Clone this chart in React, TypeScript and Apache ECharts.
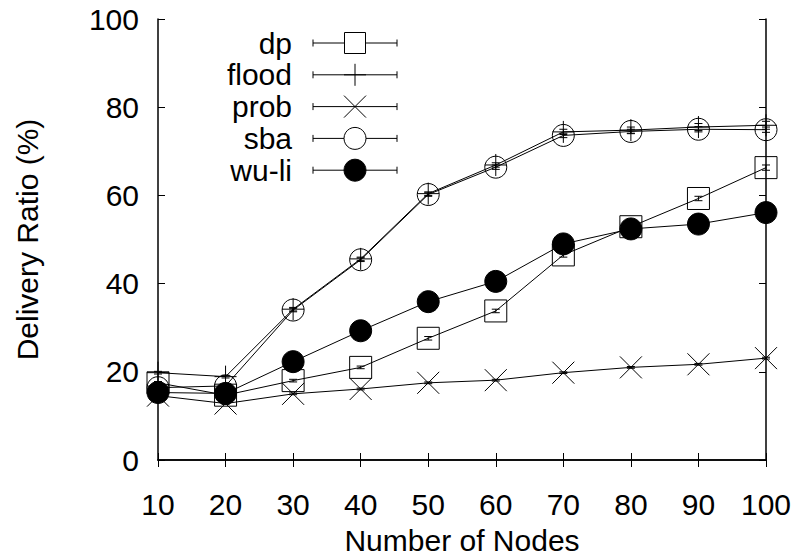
import React, { useEffect, useRef } from "react";
import * as echarts from "echarts";

const nodes = [10, 20, 30, 40, 50, 60, 70, 80, 90, 100];
const yTicks = [0, 20, 40, 60, 80, 100];

const dp = [17.5, 14.7, 18.0, 21.0, 27.6, 33.8, 46.5, 52.9, 59.3, 66.3];
const flood = [19.8, 18.9, 34.2, 45.6, 60.4, 66.9, 74.4, 74.8, 75.5, 75.9];
const prob = [14.6, 12.8, 15.0, 16.1, 17.5, 18.1, 19.8, 21.0, 21.7, 23.1];
const sba = [16.4, 16.8, 34.0, 45.4, 60.2, 66.4, 73.6, 74.5, 75.0, 74.9];
const wuli = [15.3, 15.1, 22.3, 29.3, 35.9, 40.5, 49.0, 52.4, 53.5, 56.1];

const dpErr = [0.3, 0.3, 0.3, 0.3, 0.4, 0.4, 0.5, 0.5, 0.5, 0.6];
const floodErr = [0.3, 0.3, 0.4, 0.4, 0.4, 0.5, 0.6, 0.7, 0.8, 0.9];
const probErr = [0.2, 0.2, 0.2, 0.2, 0.2, 0.2, 0.2, 0.2, 0.2, 0.2];
const sbaErr = [0.3, 0.3, 0.4, 0.4, 0.4, 0.5, 0.5, 0.5, 0.6, 0.6];
const wuliErr = [0.3, 0.3, 0.3, 0.3, 0.4, 0.4, 0.4, 0.4, 0.5, 0.5];

const seriesNames = ["dp", "flood", "prob", "sba", "wu-li"];
const seriesValues = [dp, flood, prob, sba, wuli];
const seriesErrors = [dpErr, floodErr, probErr, sbaErr, wuliErr];
const seriesMarkers = ["square", "plus", "cross", "circle", "disc"];

const FONT = "Liberation Sans, Arial, Helvetica, sans-serif";
const FS = 30;
const BLACK = "#000";

const symbolFor = (m: string) => {
  switch (m) {
    case "square":
      return { symbol: "rect", color: "rgba(0,0,0,0)" };
    case "plus":
      return { symbol: "path://M5,0L5,10M0,5L10,5", color: "rgba(0,0,0,0)" };
    case "cross":
      return { symbol: "path://M0,0L10,10M10,0L0,10", color: "rgba(0,0,0,0)" };
    case "circle":
      return { symbol: "circle", color: "rgba(0,0,0,0)" };
    default:
      return { symbol: "circle", color: BLACK };
  }
};

const legendMarker = (m: string, cx: number, cy: number): any[] => {
  const st = { stroke: BLACK, lineWidth: 1, fill: "none" };
  const h = 11;
  switch (m) {
    case "square":
      return [{ type: "rect", shape: { x: cx - 10.5, y: cy - 10.5, width: 21, height: 21 }, style: { ...st, fill: "#fff" } }];
    case "plus":
      return [
        { type: "line", shape: { x1: cx, y1: cy - h, x2: cx, y2: cy + h }, style: st },
        { type: "line", shape: { x1: cx - h, y1: cy, x2: cx + h, y2: cy }, style: st },
      ];
    case "cross":
      return [
        { type: "line", shape: { x1: cx - h, y1: cy - h, x2: cx + h, y2: cy + h }, style: st },
        { type: "line", shape: { x1: cx + h, y1: cy - h, x2: cx - h, y2: cy + h }, style: st },
      ];
    case "circle":
      return [{ type: "circle", shape: { cx, cy, r: 11 }, style: { ...st, fill: "#fff" } }];
    default:
      return [{ type: "circle", shape: { cx, cy, r: 11 }, style: { fill: BLACK, stroke: BLACK, lineWidth: 1 } }];
  }
};

export default function App() {
  const ref = useRef<HTMLDivElement>(null);

  useEffect(() => {
    if (!ref.current) return;
    const chart = echarts.init(ref.current, null, { renderer: "svg" });

    const series: any[] = [];
    seriesNames.forEach((name, i) => {
      const sym = symbolFor(seriesMarkers[i]);
      series.push({
        name,
        type: "line",
        data: nodes.map((x, j) => [x, seriesValues[i][j]]),
        symbol: sym.symbol,
        symbolSize: 22,
        showSymbol: true,
        clip: false,
        lineStyle: { color: BLACK, width: 1 },
        itemStyle: { color: sym.color, borderColor: BLACK, borderWidth: 1 },
        emphasis: { disabled: true },
        z: 2 + i,
      });
      series.push({
        name: name + "-err",
        type: "custom",
        data: nodes.map((x, j) => [x, seriesValues[i][j], seriesErrors[i][j]]),
        clip: false,
        z: 2 + i,
        renderItem: (params: any, api: any) => {
          const x = api.value(0);
          const y = api.value(1);
          const e = api.value(2);
          const top = api.coord([x, y + e]);
          const bot = api.coord([x, y - e]);
          const w = 4;
          const st = { stroke: BLACK, lineWidth: 1 };
          return {
            type: "group",
            children: [
              { type: "line", shape: { x1: top[0], y1: top[1], x2: bot[0], y2: bot[1] }, style: st },
              { type: "line", shape: { x1: top[0] - w, y1: top[1], x2: top[0] + w, y2: top[1] }, style: st },
              { type: "line", shape: { x1: bot[0] - w, y1: bot[1], x2: bot[0] + w, y2: bot[1] }, style: st },
            ],
          };
        },
      });
    });

    // legend drawn as graphic (gnuplot style keys with error-bar caps)
    const legendEls: any[] = [];
    const rowY0 = 43;
    const rowStep = 31.8;
    seriesNames.forEach((name, i) => {
      const cy = rowY0 + i * rowStep;
      const st = { stroke: BLACK, lineWidth: 1 };
      legendEls.push({
        type: "text",
        x: 292,
        y: cy,
        style: { text: name, font: `${FS}px ${FONT}`, fill: BLACK, textAlign: "right", textVerticalAlign: "middle" },
      });
      legendEls.push({ type: "line", shape: { x1: 313, y1: cy, x2: 397, y2: cy }, style: st });
      legendEls.push({ type: "line", shape: { x1: 313, y1: cy - 3.5, x2: 313, y2: cy + 3.5 }, style: st });
      legendEls.push({ type: "line", shape: { x1: 397, y1: cy - 3.5, x2: 397, y2: cy + 3.5 }, style: st });
      legendMarker(seriesMarkers[i], 355, cy).forEach((el) => legendEls.push(el));
    });

    const axisCommon = {
      axisLine: { show: true, lineStyle: { color: BLACK, width: 1.5 } },
      axisTick: { show: true, inside: true, length: 7, lineStyle: { color: BLACK, width: 1 } },
      splitLine: { show: false },
    };

    chart.setOption({
      animation: false,
      backgroundColor: "#fff",
      grid: { left: 158, right: 34, top: 19, bottom: 97, containLabel: false },
      xAxis: [
        {
          type: "value",
          min: 10,
          max: 100,
          interval: 10,
          position: "bottom",
          name: "Number of Nodes",
          nameLocation: "middle",
          nameGap: 65,
          nameTextStyle: { fontFamily: FONT, fontSize: FS, color: BLACK },
          axisLabel: { fontFamily: FONT, fontSize: FS, color: BLACK, margin: 29 },
          ...axisCommon,
        },
        {
          type: "value",
          min: 10,
          max: 100,
          interval: 10,
          position: "top",
          axisLabel: { show: false },
          ...axisCommon,
        },
      ],
      yAxis: [
        {
          type: "value",
          min: yTicks[0],
          max: yTicks[yTicks.length - 1],
          interval: 20,
          position: "left",
          name: "Delivery Ratio (%)",
          nameLocation: "middle",
          nameGap: 116,
          nameTextStyle: { fontFamily: FONT, fontSize: FS, color: BLACK },
          axisLabel: { fontFamily: FONT, fontSize: FS, color: BLACK, margin: 19 },
          ...axisCommon,
        },
        {
          type: "value",
          min: yTicks[0],
          max: yTicks[yTicks.length - 1],
          interval: 20,
          position: "right",
          axisLabel: { show: false },
          ...axisCommon,
        },
      ],
      series,
      graphic: legendEls,
    });

    return () => chart.dispose();
  }, []);

  return (
    <div
      ref={ref}
      style={{ position: "fixed", left: 0, top: 0, width: 800, height: 560, background: "#fff" }}
    />
  );
}
